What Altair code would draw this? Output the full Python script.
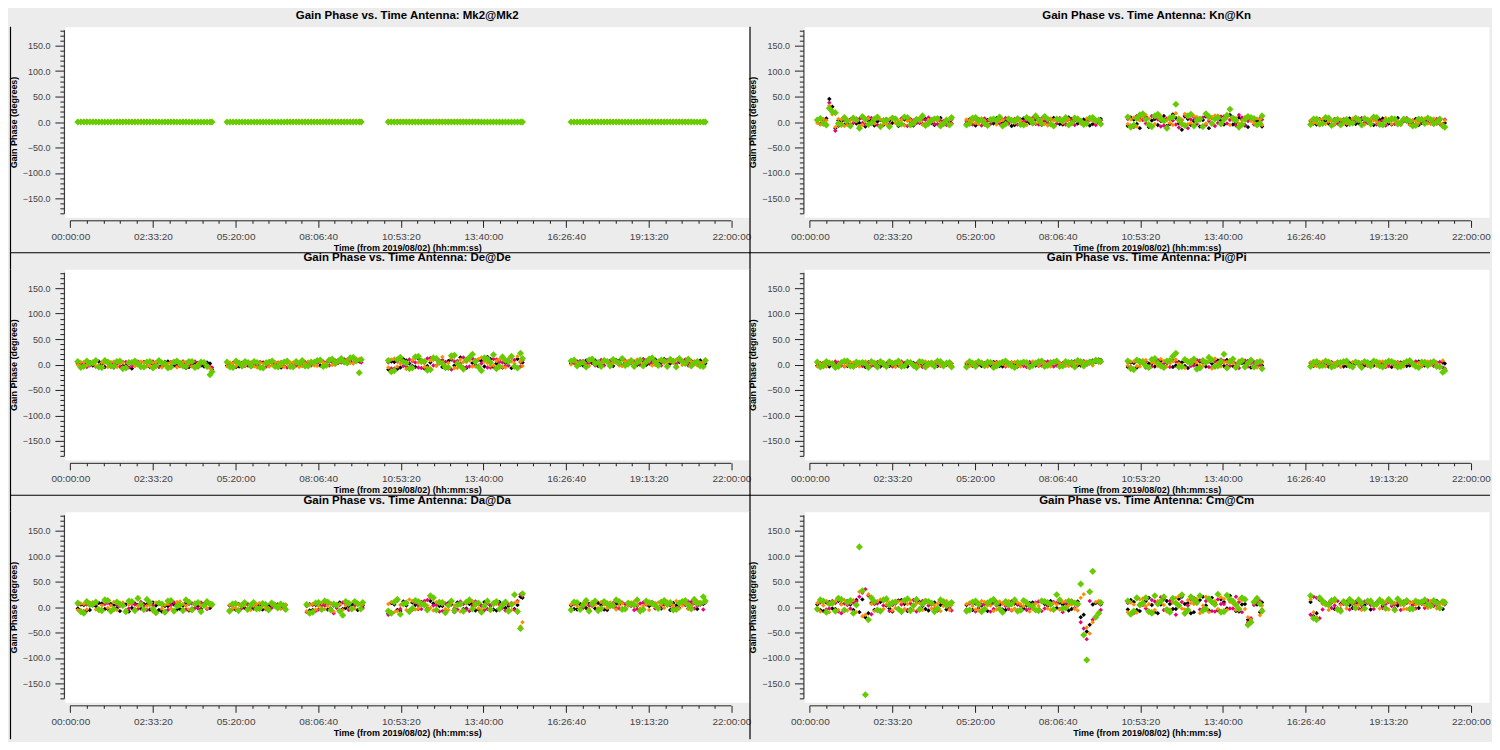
import json
import altair as alt
import pandas as pd

FONT = "Liberation Sans"
SERIES = ["corr 1", "corr 2", "corr 3", "corr 4"]
COLORS = ["#000000", "#e6007a", "#ff8c00", "#66cc00"]
X_TICK_LABELS = ["00:00:00", "02:33:20", "05:20:00", "08:06:40", "10:53:20",
                 "13:40:00", "16:26:40", "19:13:20", "22:00:00"]
X_TITLE = "Time (from 2019/08/02) (hh:mm:ss)"
Y_TITLE = "Gain Phase (degrees)"

# sample times (minutes on the plotted time axis): two interleaved sets per scan
T_SEG1 = [15, 27, 39, 51, 63, 75, 87, 99, 111, 123, 135, 147, 159, 171, 183, 195, 207, 219, 231, 243, 255, 267, 279]
T_SEG2 = [313, 325, 337, 349, 361, 373, 385, 397, 409, 421, 433, 445, 457, 469, 481, 493, 505, 517, 529, 541, 553, 565, 577]
T_SEG3 = [635, 647, 659, 671, 683, 695, 707, 719, 731, 743, 755, 767, 779, 791, 803, 815, 827, 839, 851, 863, 875, 887, 899]
T_SEG4 = [1000, 1012, 1024, 1036, 1048, 1060, 1072, 1084, 1096, 1108, 1120, 1132, 1144, 1156, 1168, 1180, 1192, 1204, 1216, 1228, 1240, 1252, 1264]
T_SEG1B = [21, 33, 45, 57, 69, 81, 93, 105, 117, 129, 141, 153, 165, 177, 189, 201, 213, 225, 237, 249, 261, 273, 283]
T_SEG2B = [319, 331, 343, 355, 367, 379, 391, 403, 415, 427, 439, 451, 463, 475, 487, 499, 511, 523, 535, 547, 559, 571, 581]
T_SEG3B = [641, 653, 665, 677, 689, 701, 713, 725, 737, 749, 761, 773, 785, 797, 809, 821, 833, 845, 857, 869, 881, 893, 903]
T_SEG4B = [1006, 1018, 1030, 1042, 1054, 1066, 1078, 1090, 1102, 1114, 1126, 1138, 1150, 1162, 1174, 1186, 1198, 1210, 1222, 1234, 1246, 1258, 1268]
T_DA2 = [318, 330, 342, 354, 366, 378, 390, 402, 414, 426]
T_DA3 = [472, 484, 496, 508, 520, 532, 544, 556, 568, 580]
T_DA2B = [324, 336, 348, 360, 372, 384, 396, 408, 420, 430]
T_DA3B = [478, 490, 502, 514, 526, 538, 550, 562, 574, 584]
T_STD = T_SEG1 + T_SEG2 + T_SEG3 + T_SEG4 + T_SEG1B + T_SEG2B + T_SEG3B + T_SEG4B
T_DA = (T_SEG1 + T_DA2 + T_DA3 + T_SEG3 + T_SEG4
        + T_SEG1B + T_DA2B + T_DA3B + T_SEG3B + T_SEG4B)

# ---- Mk2 ----
MK2_K = [1, 0, 0, 0, 0, 0, 1, 0, 0, 0, 0, 0, 0, 1, 0, 0, 0, 0, 0, 0, 0, 0, 0,
         0, 0, 0, 0, 0, 0, 0, 0, 0, 0, 0, 0, 0, 0, 1, 0, 0, 0, 0, 0, 0, 0, 0,
         1, 0, 0, 1, 0, 0, 0, 0, 0, 0, 1, 0, 0, 0, 0, 0, 0, 0, 0, 0, 0, 0, 0,
         0, 0, 0, 0, 0, 0, 0, 0, 0, 0, 0, 0, 0, 0, 0, 0, 0, 0, 0, 0, 0, 0, 0,
         0, 0, 1, 0, 0, 0, 0, 0, 0, 1, 0, 0, 0, 0, 0, 0, 0, 0, 0, 0, 0, 0, 0,
         0, 0, 0, 0, 0, 0, 0, 0, 0, 0, 0, 0, 0, 0, 0, 0, 0, 0, 0, 0, 0, 0, 0,
         0, 0, 0, 0, 0, 0, 0, 0, 0, 0, 0, 0, 1, 0, 0, 0, 0, 0, 0, 0, 0, 0, 0,
         0, 0, 0, 0, 0, 0, 0, 0, 0, 0, 0, 0, 0, 0, 0, 0, 0, 0, 0, 0, 0, 0, 0]
MK2_M = [0, 2, 2, 2, 1, 0, 0, 2, 2, 2, 2, 2, 2, 2, 0, 2, 2, 0, 2, 0, 0, 0, 0,
         0, 0, 0, 0, 0, 0, 0, 0, 0, 0, 2, 2, 2, 2, 2, 2, 2, 2, 2, 2, 2, 2, 2,
         2, 2, 2, 2, 2, 2, 2, 2, 2, 2, 2, 2, 2, 2, 2, 2, 1, 0, 1, 0, 0, 0, 1,
         1, 1, 1, 2, 2, 2, 2, 2, 2, 1, 1, 1, 2, 2, 2, 2, 2, 2, 2, 2, 2, 1, 1,
         2, 2, 2, 1, 0, 0, 2, 2, 2, 2, 2, 2, 2, 1, 2, 2, 0, 2, 0, 0, 0, 0, 0,
         0, 0, 0, 0, 0, 0, 0, 0, 0, 0, 2, 2, 2, 2, 2, 2, 2, 2, 2, 2, 2, 2, 2,
         2, 2, 2, 2, 2, 2, 2, 2, 2, 2, 2, 2, 2, 2, 2, 1, 0, 1, 0, 0, 0, 1, 1,
         1, 1, 2, 2, 2, 2, 2, 2, 1, 1, 1, 2, 2, 2, 2, 2, 2, 2, 2, 2, 1, 1, 1]
MK2_O = [0, 1, 2, 1, 0, 0, 0, 2, 2, 2, 2, 2, 2, 1, 0, 1, 2, 0, 1, 0, 0, 0, 0,
         0, 0, 0, 0, 0, 0, 0, 0, 0, 0, 2, 2, 2, 2, 2, 2, 2, 2, 2, 2, 2, 2, 2,
         2, 2, 2, 2, 1, 2, 2, 2, 2, 2, 2, 2, 2, 2, 2, 2, 1, 0, 1, 0, 0, 0, 1,
         1, 1, 1, 2, 2, 2, 2, 2, 2, 1, 1, 1, 2, 2, 2, 2, 2, 2, 2, 2, 2, 1, 1,
         1, 2, 1, 1, 0, 0, 1, 2, 2, 2, 2, 2, 1, 1, 1, 2, 0, 1, 0, 0, 0, 0, 0,
         0, 0, 0, 0, 0, 0, 0, 0, 0, 0, 2, 2, 2, 2, 2, 2, 2, 2, 2, 2, 2, 2, 2,
         2, 2, 2, 1, 2, 2, 2, 2, 2, 2, 2, 2, 2, 2, 2, 1, 0, 1, 0, 0, 0, 1, 1,
         1, 1, 2, 2, 2, 2, 2, 2, 1, 1, 1, 2, 2, 2, 2, 2, 2, 2, 2, 2, 1, 1, 1]
MK2_G = [0, 0, 0, 0, 0, 0, 0, 0, 0, 0, 0, 0, 0, 0, 0, 0, 0, 0, 0, 0, 0, 0, 0,
         0, 0, 0, 0, 0, 0, 0, 0, 0, 0, 0, 0, 0, 0, 0, 0, 0, 0, 0, 0, 0, 0, 0,
         0, 0, 0, 0, 0, 0, 0, 0, 0, 0, 0, 0, 0, 0, 0, 0, 0, 0, 0, 0, 0, 0, 0,
         0, 0, 0, 0, 0, 0, 0, 0, 0, 0, 0, 0, 0, 0, 0, 0, 0, 0, 0, 0, 0, 0, 0,
         0, 0, 0, 0, 0, 0, 0, 0, 0, 0, 0, 0, 0, 0, 0, 0, 0, 0, 0, 0, 0, 0, 0,
         0, 0, 0, 0, 0, 0, 0, 0, 0, 0, 0, 0, 0, 0, 0, 0, 0, 0, 0, 0, 0, 0, 0,
         0, 0, 0, 0, 0, 0, 0, 0, 0, 0, 0, 0, 0, 0, 0, 0, 0, 0, 0, 0, 0, 0, 0,
         0, 0, 0, 0, 0, 0, 0, 0, 0, 0, 0, 0, 0, 0, 0, 0, 0, 0, 0, 0, 0, 0, 0]

# ---- Kn ----
KN_K = ([3, 5, 45, -12, 2, -4, 6, -2, -9, 4, 1, -6, 3, 8, -3, 5, -7, 2, 6, -2, 4, -5, 1]
        + [-3, 4, 6, -5, 2, 8, -2, 3, -6, 5, 1, -4, 7, 2, -3, 6, -5, 9, 3, -2, 5, -4, 2]
        + [-8, 5, -12, 10, 3, -6, 12, -4, 8, -15, 6, 2, -9, 11, -3, 7, -5, 14, -2, 6, -10, 4, 3]
        + [2, -5, 4, -3, 6, 1, -6, 3, -2, 5, -4, 2, 7, -3, 4, -5, 1, 3, -6, 2, 5, -3, -7]
        + [-4, 7, 30, 3, -6, 5, -3, 8, 2, -7, 4, 6, -2, -8, 5, 1, 7, -4, 3, -6, 8, 2, -3]
        + [5, -7, 2, 4, -3, 6, 1, -8, 4, 7, -2, 5, -6, 3, 8, -4, 2, 6, -3, 5, -7, 3, 6]
        + [9, -4, 13, -10, 6, 2, -8, 15, -3, 11, -6, 8, 4, -12, 7, 3, 12, -5, 9, -7, 6, 2, -9]
        + [-3, 6, 2, -7, 4, -2, 7, -4, 5, 1, -6, 4, 3, -5, 8, 2, -4, 6, -2, 4, -5, 3, -2])
KN_M = ([5, 2, 38, -17, -3, 4, -2, 6, -5, 8, -6, 2, -4, 5, 7, -8, 3, -2, 4, 6, -4, 2, -3]
        + [2, -5, 3, 7, -4, 1, 5, -3, 6, -2, 4, 8, -5, 3, 6, -3, 2, 5, -6, 4, 1, 6, -2]
        + [6, -10, 8, -3, 12, 5, -7, 9, -5, 4, -12, 10, 3, -6, 8, -2, 11, 4, -7, 9, 2, -5, 7]
        + [-4, 3, -2, 6, -5, 4, 2, -3, 7, -1, 3, -5, 2, 5, -4, 1, 8, -3, 2, 4, -2, 6, -4]
        + [6, -4, 22, -8, 3, -5, 7, -2, 9, 3, -7, 4, 8, -3, -6, 6, -2, 5, 9, -4, 2, -6, 5]
        + [-4, 6, -7, 2, 5, -3, 8, 3, -5, 1, 6, -4, 7, -2, 4, 8, -5, 3, 7, -3, 4, -6, 3]
        + [-7, 12, 4, -5, 10, -9, 7, 3, -11, 13, 5, -4, 9, 2, -8, 11, -3, 6, 14, -6, 8, -4, 5]
        + [4, -6, 7, 2, -3, 6, -5, 3, 8, -2, 5, 1, -7, 4, -3, 6, 3, -5, 7, -1, 2, -4, 5])
KN_O = ([-2, 6, 32, -10, 5, -6, 3, -8, 2, -3, 7, -4, 6, -2, 4, 2, -5, 8, -3, 5, 3, -6, 4]
        + [5, 2, -4, 3, 6, -5, 4, 8, -2, 3, -6, 5, 2, -4, 7, 3, -2, 6, 4, -3, 7, 2, 5]
        + [-4, 9, 3, 14, -8, 10, 4, -2, 17, 5, -4, 12, 7, -3, 10, 13, 4, -6, 8, 3, 9, -2, 5]
        + [3, -2, 6, 1, -4, 5, -3, 7, 2, -5, 6, 1, -3, 4, 2, -6, 5, 3, -2, 7, -4, 2, -5]
        + [-5, 3, 15, 6, -8, 4, 2, -6, 7, -3, 5, -4, 9, 2, -7, 3, 6, -5, 4, 8, -2, 5, -4]
        + [3, -2, 7, -6, 4, 2, -5, 6, 3, -3, 8, -2, 5, -7, 3, 6, 2, -4, 9, -2, 5, 1, -5]
        + [5, -9, 11, 7, -4, 12, 3, -6, 9, 16, -2, 10, -8, 6, 13, -5, 8, 4, -3, 10, 2, 7, -6]
        + [-2, 5, -4, 3, 7, -3, 2, 6, -5, 4, 3, -2, 8, -4, 1, 5, -6, 2, 4, -3, 7, -2, 3])
KN_G = ([4, -3, 27, 18, -5, 2, 8, -12, 5, -2, 10, 3, -9, 6, -4, 9, -2, 4, -7, 3, 7, -3, -6]
        + [-6, 8, 2, -3, 5, 3, -8, 6, 2, -5, 9, -2, 4, 11, -4, 6, 3, -6, 8, 2, -3, 9, 4]
        + [10, -6, 14, 5, -9, 15, 2, 8, 35, -4, 12, -8, 6, 16, -3, 9, 5, 25, 3, -5, 11, 7, -3]
        + [-5, 6, -3, 8, 3, -6, 5, -2, 4, 7, -4, 9, -6, 3, 6, -2, 4, -8, 6, -3, 5, -1, -8]
        + [7, -6, 20, -3, 9, -8, 4, 11, -5, 6, -9, 3, 8, -4, 10, -6, 5, 12, -3, 6, -8, 4, 9]
        + [-3, 9, 4, -7, 6, 10, -4, 3, 7, -6, 5, 12, -3, 6, -8, 4, 9, -2, 5, -5, 8, 3, -4]
        + [-10, 7, 16, -5, 12, 6, -12, 10, 4, -7, 15, 3, -9, 11, 6, -4, 13, 8, -10, 5, 9, -6, 12]
        + [6, -4, 9, -7, 5, 3, -3, 8, -6, 4, 10, -5, 3, 7, -4, 6, 2, -7, 5, 8, -3, 6, -10])

# ---- De ----
DE_K = ([2, -3, 5, -4, 1, 4, -6, 3, -2, -8, 2, 5, -5, 3, -3, 6, -2, 4, -7, 1, 3, -4, 2]
        + [-2, 3, -4, 2, -5, 1, 4, -3, 2, -6, 3, -2, 4, -4, 2, 5, -3, 6, 2, 8, 5, 12, 6]
        + [-10, 5, -6, 8, -3, 12, -8, 4, 10, -5, 7, -2, 14, -7, 3, 9, -4, 11, 2, -6, 8, -3, 5]
        + [2, 6, -2, 4, 8, 1, 5, -3, 7, 3, 9, -1, 6, 2, 10, 4, -2, 8, 5, 3, 7, 1, -3]
        + [-4, 3, -2, 6, -5, 2, 4, -3, 5, -2, -6, 3, 1, -4, 5, -3, 2, 6, -5, 3, -2, 4, -10]
        + [2, -5, 3, -2, 4, -4, 2, 5, -3, 3, -5, 4, -2, 3, 6, -2, 4, 7, 3, 10, 6, 9, 8]
        + [6, -9, 11, 2, -5, 9, -3, 13, 5, -8, 10, 4, -6, 12, -2, 7, 15, -5, 9, 3, -7, 11, 4]
        + [5, -1, 8, 3, -3, 6, 2, 9, -2, 5, 3, 8, -1, 6, 4, 11, 2, -3, 7, 5, 1, 8, 2])
DE_M = ([4, 1, -2, 6, -5, 2, 3, -4, 5, -3, 6, -6, 2, -2, 4, -5, 3, -3, 2, 5, -6, 3, -5]
        + [3, -4, 2, -3, 4, -2, -5, 3, -1, 4, -6, 2, -3, 5, -2, 3, 6, -2, 8, 4, 10, 3, 7]
        + [4, -8, 10, -4, 7, -6, 3, 13, -2, 9, -8, 6, 2, -5, 12, -3, 8, -6, 10, 4, -2, 9, -4]
        + [5, -1, 7, 3, -2, 9, 4, 6, -1, 8, 2, 5, 11, 3, 6, -2, 9, 4, 7, 10, 2, 5, 3]
        + [2, -5, 4, -2, 6, -4, 1, 5, -6, 3, 4, -3, 6, -5, 2, 5, -4, 3, -2, 6, 1, -5, -6]
        + [-3, 4, -5, 3, -2, 5, -4, 2, 4, -3, 3, -2, 5, -4, 4, 6, -1, 5, 9, 3, 8, 11, 4]
        + [-8, 6, -3, 10, 4, -7, 12, -2, 8, 5, -10, 7, 14, -4, 9, 2, -6, 11, 5, -3, 13, -5, 8]
        + [3, 7, 1, 9, 5, -2, 8, 4, 10, 2, 6, -1, 9, 3, 7, 5, 12, 1, 8, -2, 6, 3, 9])
DE_O = ([-1, 5, 3, -3, 4, -5, 6, 2, -4, 3, -2, 4, -3, 5, -6, 2, 4, -2, 5, -4, 2, 6, -8]
        + [-4, 2, 5, -2, 3, -6, 2, -4, 5, -3, 2, 4, -5, 2, 6, -3, 4, 7, -1, 6, 9, 2, 11]
        + [-6, 12, 2, -9, 9, 4, -5, 8, -3, 15, 3, -7, 10, 5, -4, 11, 6, -2, 7, -5, 12, 2, 6]
        + [0, 4, 6, -3, 5, 2, 8, 3, -2, 6, 4, 10, 2, 7, -1, 8, 5, 3, 9, 1, 6, -2, 4]
        + [5, -2, 6, -4, 3, 5, -5, 4, 2, -3, 6, -4, 3, 5, -2, 4, -6, 5, 2, -3, 5, -2, -12]
        + [4, -3, 2, 5, -4, 3, 6, -2, 3, -5, 4, 2, -3, 6, -2, 5, 3, -1, 8, 5, 3, 12, 9]
        + [10, -4, 7, -8, 13, 3, -6, 9, 6, -2, 12, -7, 5, 8, -4, 14, 3, -2, 10, -6, 6, 16, -3]
        + [6, 2, -2, 8, 4, 10, 1, 5, -3, 7, 2, 9, 5, -2, 8, 3, 6, 10, -1, 7, 4, 2, 6])
DE_G = ([6, -4, 2, 8, -6, 5, -3, 7, -7, 4, 1, -5, 6, -3, 3, -7, 5, 2, -4, 6, -3, 4, -20]
        + [5, -6, 3, 6, -3, 4, -7, 5, -4, 3, 7, -5, 2, -3, 5, 8, -4, 9, 4, 12, 3, 14, -16]
        + [8, -12, 14, 3, -7, 16, 6, -10, 12, 2, -6, 18, -3, 9, 20, -5, 13, 4, -8, 15, 6, -4, 22]
        + [7, -3, 4, 9, 2, -4, 6, 10, 3, -2, 8, 4, -3, 11, 5, 9, -4, 7, 12, 2, -3, 6, -4]
        + [-6, 7, 3, -5, 8, -3, 6, -8, 4, 7, -4, 5, -7, 8, 2, -5, 7, -3, 6, -6, 5, -4, -14]
        + [-5, 7, -3, 4, 6, -6, 3, 7, -5, 5, -4, 6, 8, -3, 4, 9, -2, 11, 6, 5, 13, 7, 10]
        + [-14, 10, 5, -8, 15, 7, -11, 13, 4, -6, 17, 2, -9, 14, 6, -12, 11, 19, -4, 8, 16, -7, 12]
        + [9, 2, -5, 11, 4, 8, -3, 6, 12, 1, -4, 9, 5, 13, -2, 7, 10, -5, 6, 11, 3, -3, 8])

# ---- Pi ----
PI_K = ([-2, 3, -4, 2, 5, -3, 1, 4, -5, 2, -1, 3, -3, 5, 2, -4, 3, -2, 4, 1, -3, 2, 5]
        + [1, -3, 4, 2, -2, 5, -4, 3, 1, -2, 4, -3, 2, 5, -1, 3, -4, 2, 6, -2, 4, 8, 10]
        + [-5, 3, 8, -6, 2, 5, -3, 7, -2, 4, -7, 3, 6, -4, 2, 8, -3, 5, -6, 3, 7, -2, 4]
        + [3, -2, 4, -4, 2, 5, -3, 1, 4, -2, 3, 5, -4, 2, -1, 4, -3, 2, 6, -2, 3, -3, 4]
        + [3, -3, 2, -5, 4, 1, -2, 5, -3, 3, -4, 2, 4, -2, 3, 5, -4, 1, 3, -3, 4, -1, 2]
        + [-2, 4, -3, 2, 5, -3, 1, 4, -4, 3, 2, -2, 5, -3, 4, -1, 3, 6, -2, 4, 7, 5, 9]
        + [4, -6, 6, 2, -4, 7, 3, -5, 5, -3, 8, -2, 4, 6, -5, 3, 9, -3, 5, 2, -6, 6, -2]
        + [-3, 4, 1, -2, 5, -4, 3, 2, -3, 5, -2, 4, 3, -5, 2, 4, -2, 5, -3, 3, 1, -4, 2])
PI_M = ([3, -4, 2, 6, -2, 4, -5, 1, 3, -3, 5, -2, 4, -1, 6, 2, -4, 3, -2, 5, 3, -4, 1]
        + [-3, 4, -1, 3, 5, -4, 2, -2, 4, 3, -5, 2, -3, 4, 6, -2, 3, 5, -3, 4, -1, 5, 6]
        + [4, -8, 3, 6, -4, 9, 2, -5, 6, -3, 5, -2, 8, 3, -6, 4, 7, -3, 2, 6, -4, 5, -1]
        + [-2, 5, 1, 3, -4, 2, 4, -3, 5, 2, -4, 3, 1, -3, 5, -2, 4, 3, -4, 2, 6, 4, -6]
        + [-3, 5, -1, 4, -4, 3, 2, -3, 5, -2, 4, 1, -4, 3, -2, 5, 2, -5, 4, 1, -3, 4, -2]
        + [4, -2, 5, -3, 2, 4, -4, 3, 1, -3, 5, 3, -2, 6, -4, 3, 5, -2, 4, 7, 2, 6, 4]
        + [-5, 7, 2, -6, 8, -2, 5, 10, -4, 7, -3, 9, 4, -5, 6, 10, -2, 5, -7, 8, 3, -3, 6]
        + [4, -3, 2, 5, -2, 3, -4, 6, 1, -3, 4, 2, -5, 3, 5, -3, 2, 6, -2, 4, -3, 5, -8])
PI_O = ([-4, 2, 5, -3, 3, -1, 4, -4, 6, 1, -3, 5, 2, -5, 3, 4, 1, -3, 6, -2, 4, 1, -3]
        + [4, -2, 3, -5, 2, 4, 1, -3, 5, -4, 2, 6, -2, 3, -4, 5, 1, -3, 4, 2, 6, -2, 3]
        + [-2, 6, -4, 9, 4, -3, 7, 2, 10, -5, 3, 6, -2, 5, -8, 3, 4, 9, -3, 6, 2, -5, 7]
        + [4, -3, 6, 2, 3, -5, 2, 5, -2, 4, 1, -3, 6, 3, -4, 2, 5, -2, 3, 7, -1, 2, 8]
        + [2, -4, 4, 1, -3, 5, -2, 3, -4, 4, 2, -3, 5, 1, -4, 3, -1, 4, -3, 5, -2, 3, 1]
        + [-3, 5, 2, -4, 3, 5, -2, 4, -3, 2, -4, 5, 3, -2, 4, 2, -3, 6, 1, 5, 3, 7, 5]
        + [6, -3, 9, -6, 3, 11, -4, 6, 2, -7, 8, 4, -3, 7, 12, -4, 5, 2, 8, -2, 6, -6, 4]
        + [-2, 5, -4, 3, 6, 2, -3, 4, 5, -2, 3, 6, -3, 2, 4, -4, 5, 1, -2, 6, 3, -2, -10])
PI_G = ([5, -3, 3, -6, 4, 7, -4, 3, 2, 6, -5, 2, 6, 3, -4, 5, -2, 6, -5, 3, 7, -3, 4]
        + [-5, 3, 6, -2, 4, -3, 5, 2, -6, 3, 4, -2, 6, -4, 3, 7, -3, 4, -5, 6, 2, 4, 7]
        + [7, -10, 5, -3, 10, 3, -6, 8, 22, -4, 6, 11, -7, 4, 9, -3, 20, 5, -6, 8, 3, -5, 6]
        + [-4, 6, -2, 5, -3, 4, 7, -5, 3, 6, -3, 5, -5, 7, 3, -4, 6, 2, -6, 4, 3, -4, -15]
        + [-5, 6, 2, -4, 7, -3, 5, 4, -6, 3, 6, -4, 2, 7, -3, 4, -6, 5, 2, -4, 6, 3, -5]
        + [6, -4, 3, 5, -6, 2, 7, -3, 4, 5, -5, 3, 7, -2, 5, -4, 6, 3, 8, -3, 5, 9, 6]
        + [-8, 9, 4, -6, 12, -3, 7, 16, -5, 10, 3, -9, 8, 14, -4, 6, -7, 11, 3, -5, 9, 4, -8]
        + [5, -3, 7, -5, 3, 6, -2, 5, -6, 4, 7, -3, 4, 6, -5, 3, 8, -4, 5, -2, 6, -5, -12])

# ---- Da ----
DA_K = ([-3, 4, -6, 2, 7, -4, 3, -8, 5, -2, 4, 6, -5, 3, -9, 2, 5, -4, 8, -3, 2, 6, -2]
        + [3, -5, 2, 6, -3, 4, -4, 1, 5, 2]
        + [2, -6, 4, 8, -3, 5, -4, 2, 6, -2]
        + [-12, 5, -8, 3, 9, -4, 6, 12, -6, 2, 8, -10, 4, -3, 7, -5, 10, 3, -7, 5, 2, -4, 20]
        + [3, -5, 2, 6, -3, 4, -6, 1, 5, -2, 7, 3, -4, 2, 6, -3, 4, 8, -2, 5, 3, -4, 6]
        + [5, -7, 3, 8, -4, 6, -2, 4, -9, 7, -3, 5, 9, -6, 2, 7, -5, 3, -7, 6, -4, 8, 4]
        + [-4, 6, -2, 3, 5, -5, 3, 6, -2, 4]
        + [-7, 4, 6, -5, 3, 9, -2, 5, -6, 3]
        + [8, -6, 11, -9, 4, 10, -3, 7, 2, -8, 5, 9, -4, 6, -7, 3, 8, -5, 10, -2, 6, 4, 18]
        + [-4, 6, -2, 4, 8, -5, 3, 7, -3, 5, 2, -4, 6, 9, -2, 5, -6, 3, 7, -3, 8, 5, 10])
DA_M = ([5, -8, 3, 6, -5, 8, -3, 2, -10, 6, -4, 3, 7, -12, 4, -6, 9, 3, -5, 7, -3, 4, 8]
        + [-6, 4, -3, 5, 2, -5, 7, -2, 3, -1]
        + [-10, 4, -5, 3, 7, -2, 9, -6, 3, 5]
        + [-15, 8, -4, 10, -6, 3, 12, 18, 4, -8, 6, -3, 11, -5, 2, 9, -6, 4, 8, -2, 5, -6, 25]
        + [-4, 6, -2, 3, 7, -5, 4, 8, -3, 6, 2, -4, 9, 5, -3, 3, 7, -2, 6, 4, 10, 2, -5]
        + [-7, 5, 9, -4, 6, -9, 4, 7, -3, 5, 10, -6, 3, 6, -8, 4, 8, -5, 6, -2, 9, -4, 3]
        + [3, -5, 6, -2, 4, 5, -4, 2, 6, -3]
        + [6, -8, 3, 7, -12, 4, 6, -4, 8, -2]
        + [-10, 12, 5, -7, 9, -4, 14, 3, -9, 7, 10, -5, 6, -8, 11, 2, -4, 9, 5, -7, 8, 12, 22]
        + [6, -3, 8, 2, -5, 7, 4, -2, 9, 3, -6, 7, 5, 10, -2, 6, 3, -4, 8, 11, -3, 6, 9])
DA_O = ([-6, 6, 9, -5, 3, -2, 10, 4, -6, 8, 2, -7, 4, 9, -3, 6, -8, 11, 2, -4, 8, 5, 3]
        + [4, -2, 6, -4, 3, 8, -3, 5, 2, 4]
        + [-8, 6, 2, -4, 8, 3, -6, 10, -3, 4]
        + [6, -10, 4, -6, 12, -3, 8, -2, 10, 5, -6, 3, -9, 7, 12, -3, 5, -8, 6, 3, -5, 8, -38]
        + [5, 2, 8, -4, 4, 10, -2, 6, 3, -5, 9, 4, 2, -6, 8, 5, 11, 3, -3, 7, 2, 12, 8]
        + [7, -5, 4, -8, 10, 3, -6, 9, 5, -4, 7, 2, -9, 8, 4, -3, 10, 6, -5, 9, 3, -2, 7]
        + [-3, 5, 3, -6, 6, 2, -2, 7, -4, 5]
        + [4, -5, 8, 2, -9, 6, 3, -4, 9, 5]
        + [10, -8, 7, 15, -5, 9, 3, -7, 12, -4, 8, 5, -6, 10, 2, -5, 9, 4, -3, 7, -6, 10, -30]
        + [8, -4, 6, 10, -2, 5, 9, -5, 7, 3, 11, -3, 6, 4, 9, -2, 7, 12, 3, -4, 9, 6, 14])
DA_G = ([8, -12, 5, 10, -7, 13, -4, 6, -9, 11, 17, -5, 9, -11, 6, 12, -8, 4, 14, -6, 9, 3, 6]
        + [-8, 7, 3, -5, 9, -3, 5, 8, -2, 3]
        + [5, -10, 9, 12, -6, 4, -16, 7, 11, -4]
        + [-8, 10, -14, 8, -3, 11, 4, 22, -6, 9, 3, -7, 6, 10, -4, 8, 2, -5, 11, 4, -8, 24, -42]
        + [-6, 9, 4, -8, 12, -3, 7, 3, 11, -4, 6, 14, -5, 9, 3, 10, 5, -6, 8, 13, -4, 7, 20]
        + [-9, 11, 6, -5, 14, -8, 10, 3, 12, -7, 5, 15, -4, 8, -10, 13, 2, -7, 10, 6, -9, 11, 5]
        + [6, -7, 9, 4, -4, 7, -6, 3, 6, -5]
        + [-12, 8, -5, 10, 6, -8, 11, -4, 6, 9]
        + [-12, 15, 6, -9, 13, 5, -6, 18, 9, -11, 12, 4, -8, 14, 6, -10, 12, 7, -4, 10, 5, -9, 26]
        + [10, -5, 13, 6, -7, 11, 2, 14, -5, 8, 4, -8, 12, 7, -3, 13, 9, -5, 11, 4, 15, 8, 12])

# ---- Cm ----
CM_K = ([5, -8, 10, -4, 6, 12, -6, -10, -20, 8, -5, 12, -3, 7, 14, -8, 4, 10, -4, 6, -7, 3, 8]
        + [4, -6, 8, -3, 5, 10, -5, 2, 7, -8, 3, 9, -4, 6, 12, -2, 5, -7, 8, -20, -48, 5, 10]
        + [-5, 10, -8, 12, 4, -12, 16, 6, -4, 20, 8, -10, 14, 3, 18, -6, 10, 22, -8, 5, -25, 8, -10]
        + [10, -12, 8, 3, -4, 6, 10, -2, 8, 4, -5, 9, 2, 12, -3, 6, 10, 4, -2, 8, 5, 12, -4]
        + [-6, 9, -3, 12, -8, 5, 14, 15, -12, -6, 10, 3, -9, 13, 6, -4, 11, 2, -7, 9, 4, -5, 7]
        + [-5, 7, 3, -8, 9, 4, -6, 11, 5, -3, 8, -7, 10, 3, -5, 9, 6, -4, 11, -15, -35, 8, 5]
        + [14, -6, 9, 18, -10, 5, 12, -4, 16, 6, -12, 10, 20, -7, 8, 15, -3, 11, -9, 6, -28, 5, 9]
        + [-18, 14, 5, 9, -3, 11, 4, 7, -4, 10, 6, 13, -2, 8, 3, 11, -5, 7, 12, 2, 9, -3, 6])
CM_M = ([-6, 10, -3, 8, -12, 4, 9, 20, 35, -14, 7, 3, -8, 12, 5, -6, 14, -3, 9, 5, -5, 10, -2]
        + [-5, 8, -2, 6, -9, 3, 7, -4, 10, 2, -6, 5, 11, -3, 4, 8, -10, 6, -2, -30, -63, -25, 8]
        + [8, -12, 6, -3, 14, 8, -6, 12, -15, 10, 3, 18, -5, 12, -8, 15, 6, -3, 20, -10, -30, 4, 12]
        + [-15, 18, -5, 8, 3, -4, 9, 6, -3, 11, 4, 7, -2, 10, 5, -6, 8, 3, 11, -2, 7, 4, 9]
        + [9, -5, 12, -9, 7, -3, 11, 28, 22, 6, -8, 13, 4, -5, 10, 7, -9, 12, 3, -4, 11, 6, -7]
        + [7, -9, 5, 10, -4, 8, 2, -7, 6, 12, -3, 9, -8, 5, 10, -4, 7, 13, 3, -42, 12, -18, -6]
        + [-12, 16, 4, -8, 11, 19, -5, 9, 3, -14, 15, 7, -4, 18, -9, 6, 21, -3, 10, 14, -22, 9, -5]
        + [20, -22, 9, -2, 12, 6, -5, 10, 3, 8, -4, 12, 6, 2, 9, 4, 10, -3, 6, 13, 2, 8, 5])
CM_O = ([8, 3, -10, 12, 5, -7, 14, 30, -15, 6, 12, -4, 9, -2, 11, 6, -6, 8, 13, -3, 7, 2, -6]
        + [6, 2, -7, 10, 3, -5, 8, 12, -3, 6, 9, -4, 2, 13, -6, 5, 10, 3, -4, 18, -40, -30, 12]
        + [-10, 5, 15, 2, -8, 12, 4, -5, 18, -3, 14, 6, -12, 20, 8, -4, 16, 10, -6, 14, -20, 12, -16]
        + [15, -20, 6, -6, 10, 4, -3, 12, 5, -4, 9, 3, 13, -5, 8, 4, -4, 10, 6, 3, 12, -3, 6]
        + [-9, 12, 5, -6, 14, 8, -10, -18, 25, -8, 15, 5, -7, 11, -4, 13, 7, -6, 10, 3, -8, 12, 4]
        + [9, -5, 12, 3, -8, 11, 5, -6, 9, 2, -9, 7, 14, -3, 8, -5, 12, 5, -7, 25, -52, 10, 7]
        + [9, -11, 17, 6, -6, 14, -9, 10, 21, -5, 8, 16, 3, -10, 12, 19, -6, 7, 15, -4, -25, 14, 3]
        + [-10, 16, 4, 10, -5, 9, 12, 3, -6, 11, 5, -3, 10, 7, 14, -4, 8, 5, 11, -2, 9, 6, 12])
CM_G = ([-4, 12, 6, -8, 15, 9, -12, 118, -172, 18, -6, 14, 4, 10, -9, 16, 3, -5, 12, 8, -3, 11, 5]
        + [-8, 10, 5, -4, 12, 7, -10, 4, 14, -6, 9, 2, -7, 11, 5, 24, -3, 12, 8, 45, -104, 70, -12]
        + [12, -8, 4, 18, -12, 6, 20, -10, 8, 24, -6, 14, 22, -4, 10, 25, -9, 15, 4, 18, -35, 10, 6]
        + [22, -25, 12, 4, 15, -8, 6, 10, 14, -3, 12, 6, 8, 15, -6, 10, 13, -4, 9, 14, 2, 8, 11]
        + [14, -10, 8, 17, -6, 13, 4, 32, -25, 11, -8, 16, 9, -4, 13, -7, 15, 6, 11, -9, 14, 3, 9]
        + [-6, 12, -9, 8, 15, -4, 11, 6, -8, 13, 3, -6, 12, 9, -5, 14, -2, 10, 6, -55, 30, -20, 9]
        + [-14, 18, 8, -9, 22, 11, -5, 17, 3, -12, 20, 9, -7, 16, 5, -10, 23, 12, -4, 15, -30, 17, -8]
        + [-22, 18, 6, 13, -5, 11, 15, -2, 8, 12, 4, 14, -3, 9, 16, 7, -4, 12, 10, 5, 13, -2, 9])

PANELS = [
    ("Gain Phase vs. Time Antenna: Mk2@Mk2", T_STD, MK2_K, MK2_M, MK2_O, MK2_G),
    ("Gain Phase vs. Time Antenna: Kn@Kn", T_STD, KN_K, KN_M, KN_O, KN_G),
    ("Gain Phase vs. Time Antenna: De@De", T_STD, DE_K, DE_M, DE_O, DE_G),
    ("Gain Phase vs. Time Antenna: Pi@Pi", T_STD, PI_K, PI_M, PI_O, PI_G),
    ("Gain Phase vs. Time Antenna: Da@Da", T_DA, DA_K, DA_M, DA_O, DA_G),
    ("Gain Phase vs. Time Antenna: Cm@Cm", T_STD, CM_K, CM_M, CM_O, CM_G),
]

W = 686
H = 191
X_END = 1320          # 22:00:00 on the plotted axis
X_STEP = 165          # major tick step
X_DOMAIN = [-10.8, 1356.3]
Y_DOMAIN = [-187, 187]

x_label_expr = (f"datum.value % {X_STEP} === 0 ? "
                f"{json.dumps(X_TICK_LABELS)}[round(datum.value / {X_STEP})] : ''")
x_major = f"datum.value % {X_STEP} === 0"
y_major = "datum.value % 50 === 0 && abs(datum.value) <= 150"
y_label_expr = y_major + " ? format(datum.value, '.1f') : ''"

X_AXIS = alt.Axis(
    values=[i * 33 for i in range(41)], labelExpr=x_label_expr,
    tickSize={"condition": {"test": x_major, "value": 7}, "value": 3},
    tickColor="#222222", domain=False, grid=False, offset=3,
    labelFont=FONT, labelFontSize=10, labelColor="#444444", labelPadding=4,
    labelOverlap=False, labelFlush=False, labelBound=False,
    title=X_TITLE, titleFont=FONT, titleFontSize=9, titleFontWeight="bold",
    titleColor="black", titlePadding=2,
)
Y_AXIS = alt.Axis(
    values=list(range(-180, 181, 10)),
    labelExpr=y_label_expr,
    tickSize={"condition": {"test": y_major, "value": 9}, "value": 4},
    tickColor="#222222", domain=False, grid=False, offset=1,
    labelFont=FONT, labelFontSize=9, labelColor="#444444", labelPadding=5,
    labelOverlap=False, labelFlush=False, labelBound=False,
    title=Y_TITLE, titleFont=FONT, titleFontSize=9, titleFontWeight="bold",
    titleColor="black", titlePadding=4,
)
X_SCALE = alt.Scale(domain=X_DOMAIN, nice=False, zero=False)
Y_SCALE = alt.Scale(domain=Y_DOMAIN, nice=False, zero=False)
COLOR = alt.Color("corr:N", scale=alt.Scale(domain=SERIES, range=COLORS), legend=None)


def make_cell(idx, title, times, k, m, o, g):
    n = len(times)
    for s in (k, m, o, g):
        assert len(s) == n, (title, len(s), n)
    left = idx % 2 == 0
    last_row = idx >= 4
    df = pd.DataFrame({
        "t": times * 4,
        "phase": k + m + o + g,
        "corr": [SERIES[0]] * n + [SERIES[1]] * n + [SERIES[2]] * n + [SERIES[3]] * n,
    })
    base = alt.Chart(df).encode(
        x=alt.X("t:Q", scale=X_SCALE, axis=X_AXIS),
        y=alt.Y("phase:Q", scale=Y_SCALE, axis=Y_AXIS),
        color=COLOR,
    )
    under = base.transform_filter(
        alt.FieldOneOfPredicate(field="corr", oneOf=SERIES[:3])
    ).mark_point(shape="diamond", filled=True, opacity=1, strokeWidth=0, size=20)
    top_pts = base.transform_filter(
        alt.FieldEqualPredicate(field="corr", equal=SERIES[3])
    ).mark_point(shape="diamond", filled=True, opacity=1, strokeWidth=0, size=50)
    one = pd.DataFrame({"a": [0]})
    x_dom = alt.Chart(one).mark_rule(color="#222222", strokeWidth=1).encode(
        x=alt.XDatum(0, type="quantitative", axis=X_AXIS, scale=X_SCALE),
        x2=alt.datum(X_END), y=alt.value(H + 3.5))
    y_dom = alt.Chart(one).mark_rule(color="#222222", strokeWidth=1).encode(
        y=alt.YDatum(-180, type="quantitative", axis=Y_AXIS, scale=Y_SCALE),
        y2=alt.datum(180), x=alt.value(-0.5))
    layers = [under, top_pts, x_dom, y_dom]
    bottom = H + 37 if last_row else H + 52
    if left:
        layers.append(alt.Chart(one).mark_rule(color="black", strokeWidth=1.2).encode(
            x=alt.value(W + 0.5), y=alt.value(0), y2=alt.value(bottom)))
        layers.append(alt.Chart(one).mark_rule(color="black", strokeWidth=1.2).encode(
            x=alt.value(-54.5), y=alt.value(0), y2=alt.value(bottom)))
    if not last_row:
        layers.append(alt.Chart(one).mark_rule(color="black", strokeWidth=1.2).encode(
            x=alt.value(-55), x2=alt.value(W + 1), y=alt.value(H + 35.5)))
    return alt.layer(*layers).properties(
        width=W, height=H,
        title=alt.TitleParams(title, font=FONT, fontSize=11.5, fontWeight="bold",
                              color="black", anchor="middle", offset=5, frame="group"),
    )


cells = [make_cell(i, *p) for i, p in enumerate(PANELS)]

chart = alt.concat(*cells, columns=2, spacing={"row": 52, "column": 55},
                   bounds="flush").properties(
    background="#ececec", padding=0
).configure_view(fill="white", stroke="transparent").configure_axis(labelOverlap=False)

chart.save("out.html", embed_options={"renderer": "svg", "actions": False})
